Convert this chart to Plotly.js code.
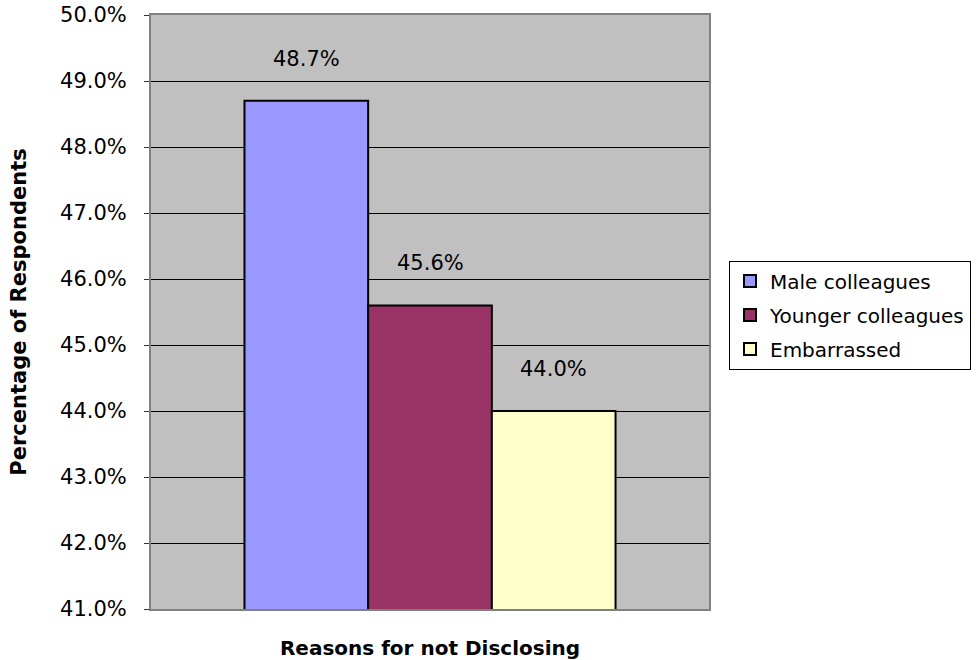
<!DOCTYPE html>
<html>
<head>
<meta charset="utf-8">
<script src="https://cdn.plot.ly/plotly-3.0.1.min.js"></script>
<style>html,body{margin:0;padding:0;background:#fff;}#chart{width:980px;height:660px;}</style>
</head>
<body>
<div id="chart"></div>
<script>
const category = ["Reasons for not Disclosing"];
const seriesNames = ["Male colleagues", "Younger colleagues", "Embarrassed"];
const seriesValues = [48.7, 45.6, 44.0];
const seriesColors = ["#9999FF", "#993366", "#FFFFCC"];
const yTickVals = [41, 42, 43, 44, 45, 46, 47, 48, 49, 50];
const yTickText = yTickVals.map(v => v.toFixed(1) + "%");

const FONT = "DejaVu Sans, Verdana, sans-serif";

const traces = seriesNames.map((name, i) => ({
  type: "bar",
  name: name,
  legendgroup: "g" + i,
  x: category,
  y: [seriesValues[i]],
  marker: {color: seriesColors[i], line: {color: "#000000", width: 2}},
  hoverinfo: "skip"
}));

const mL = 151, mR = 271;
const plotW = 980 - mL - mR;
const bargap = 0.335;
const barPx = plotW * (1 - bargap) / seriesNames.length;

const annotations = seriesValues.map((v, i) => ({
  x: category[0], y: v, xref: "x", yref: "y",
  text: v.toFixed(1) + "%",
  showarrow: false,
  xshift: (i - (seriesNames.length - 1) / 2) * barPx,
  yshift: 42,
  yanchor: "middle",
  font: {family: FONT, size: 21, color: "#000000"}
}));

const layout = {
  width: 980, height: 660,
  margin: {l: mL, r: mR, t: 15, b: 51, pad: 0},
  paper_bgcolor: "#FFFFFF",
  plot_bgcolor: "#C0C0C0",
  barmode: "group",
  bargap: bargap,
  bargroupgap: 0,
  showlegend: true,
  legend: {
    xref: "container", yref: "container",
    x: 729 / 980, xanchor: "left", y: (660 - 315) / 660, yanchor: "middle",
    bgcolor: "#FFFFFF", bordercolor: "#000000", borderwidth: 1,
    font: {family: FONT, size: 20, color: "#000000"},
    traceorder: "grouped", tracegroupgap: 5,
    itemwidth: 30
  },
  xaxis: {
    showticklabels: false, ticks: "",
    showline: true, linecolor: "#808080", linewidth: 2, mirror: true,
    showgrid: false, zeroline: false,
    title: {text: "<b>Reasons for not Disclosing</b>", font: {family: FONT, size: 20, color: "#000000"}, standoff: 31},
    automargin: false
  },
  yaxis: {
    range: [41, 50], tickvals: yTickVals, ticktext: yTickText,
    ticks: "outside", ticklen: 5, tickcolor: "#333333", tickwidth: 1,
    ticklabelstandoff: 13,
    tickfont: {family: FONT, size: 21, color: "#000000"},
    showline: true, linecolor: "#808080", linewidth: 2, mirror: true,
    showgrid: true, gridcolor: "#000000", gridwidth: 1, zeroline: false,
    title: {text: "<b>Percentage of Respondents</b>", font: {family: FONT, size: 21, color: "#000000"}, standoff: 28},
    automargin: false
  },
  annotations: annotations,
  font: {family: FONT}
};

Plotly.newPlot("chart", traces, layout, {displayModeBar: false, staticPlot: true});
</script>
</body>
</html>
